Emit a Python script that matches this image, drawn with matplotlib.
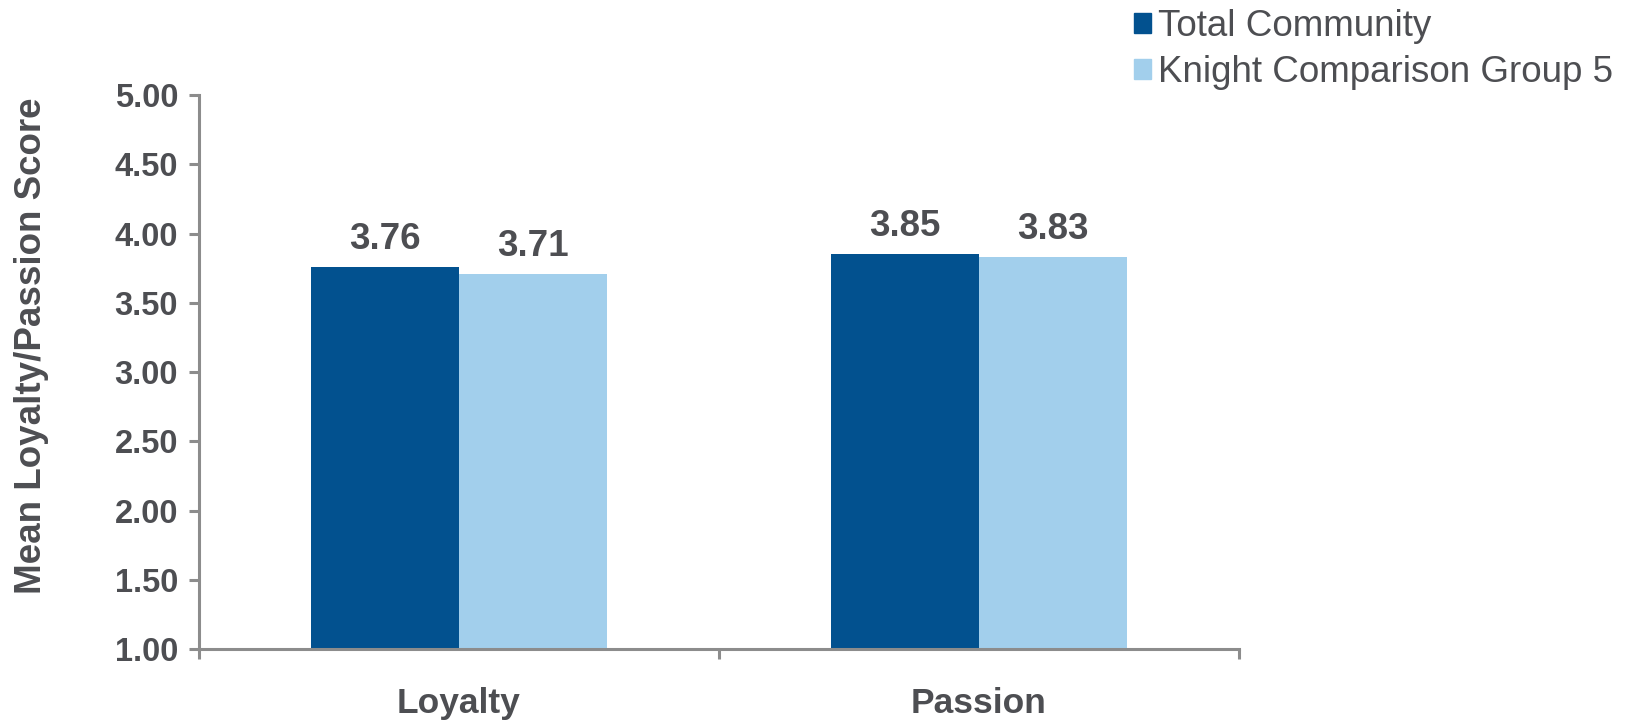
import numpy as np
import matplotlib
matplotlib.use("Agg")
import matplotlib.pyplot as plt
from matplotlib.patches import Patch

plt.rcParams['font.family'] = ['Liberation Sans', 'DejaVu Sans']

categories = ['Loyalty', 'Passion']
series_names = ['Total Community', 'Knight Comparison Group 5']
total_community = [3.76, 3.85]
knight_group5 = [3.71, 3.83]
y_ticks = [1.00, 1.50, 2.00, 2.50, 3.00, 3.50, 4.00, 4.50, 5.00]

dark_blue = '#02518F'
light_blue = '#A2CFEC'
text_col = '#4D4E52'
axis_col = '#8C8C8C'

fig = plt.figure(figsize=(16.42, 7.22), dpi=100)
ax = fig.add_axes([0.1212, 0.1011, 0.6333, 0.7673])

x = np.arange(len(categories))
w = 0.285
b1 = ax.bar(x - w / 2, total_community, w, color=dark_blue, bottom=0)
b2 = ax.bar(x + w / 2, knight_group5, w, color=light_blue, bottom=0)

# value labels above bars
for bars, vals in [(b1, total_community), (b2, knight_group5)]:
    for r, v in zip(bars, vals):
        ax.annotate('%.2f' % v, (r.get_x() + r.get_width() / 2, v),
                    xytext=(0, 13), textcoords='offset points',
                    ha='center', va='baseline', fontsize=26.5,
                    fontweight='bold', color=text_col)

ax.set_ylim(1, 5)
ax.set_xlim(-0.5, 1.5)
ax.set_yticks(y_ticks)
ax.set_yticklabels(['%.2f' % t for t in y_ticks])
ax.set_xticks(x)
ax.set_xticklabels(categories)
ax.set_xticks([-0.5, 0.5, 1.5], minor=True)

for s in ['top', 'right']:
    ax.spines[s].set_visible(False)
for s in ['left', 'bottom']:
    ax.spines[s].set_color(axis_col)
    ax.spines[s].set_linewidth(2.2)

ax.tick_params(axis='y', length=7, width=2.2, color=axis_col, pad=8,
               labelsize=23.5, labelcolor=text_col)
ax.tick_params(axis='x', which='major', length=0, pad=27,
               labelsize=25.5, labelcolor=text_col)
ax.tick_params(axis='x', which='minor', length=7, width=2.2, color=axis_col)
for lab in ax.get_yticklabels() + ax.get_xticklabels():
    lab.set_fontweight('bold')

fig.text(0.019, 0.521, 'Mean Loyalty/Passion Score', rotation=90,
         ha='center', va='center', fontsize=26.5, fontweight='bold', color=text_col)

handles = [Patch(color=dark_blue), Patch(color=light_blue)]
leg = fig.legend(handles, series_names, loc='upper left',
                 bbox_to_anchor=(0.6906, 0.987), frameon=False, fontsize=26.5,
                 handlelength=0.45, handleheight=0.45, handletextpad=0.2,
                 labelspacing=0.3, borderpad=0, borderaxespad=0)
for t in leg.get_texts():
    t.set_color(text_col)

fig.savefig('out.png', dpi=100)
